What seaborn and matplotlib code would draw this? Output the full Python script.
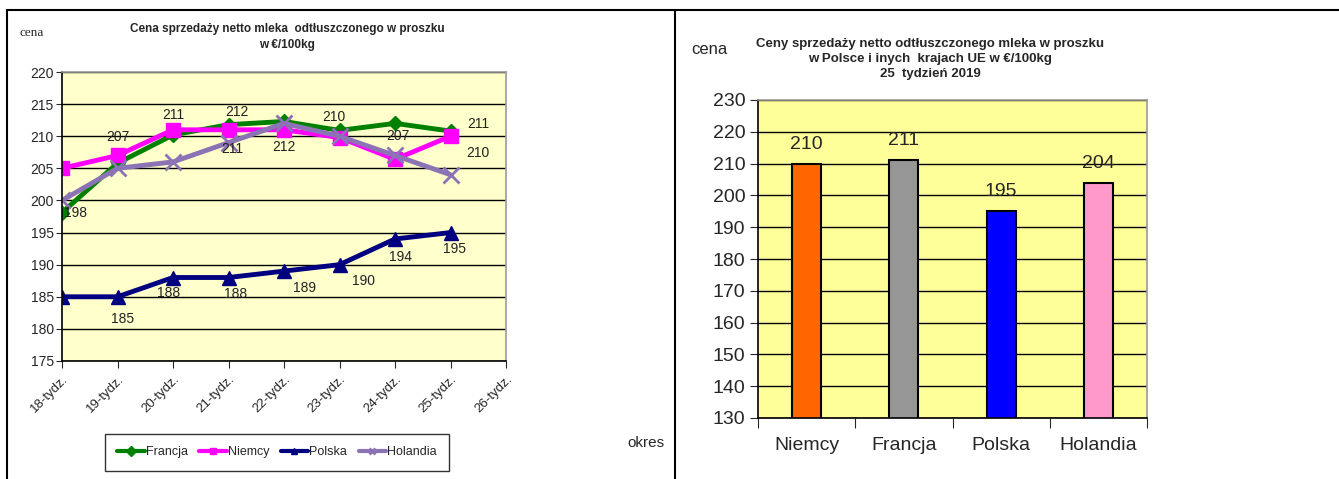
#  Ceny mleka odtłuszczonego w proszku - wykres liniowy + słupkowy

import numpy as np
import pandas as pd
import matplotlib
matplotlib.use('Agg')
import matplotlib.pyplot as plt
import seaborn as sns
from matplotlib.lines import Line2D
# _________________________________________________

# DANE

weeks = ['18-tydz.', '19-tydz.', '20-tydz.', '21-tydz.', '22-tydz.',
         '23-tydz.', '24-tydz.', '25-tydz.', '26-tydz.']

francja = [198.1, 205.8, 210.2, 211.8, 212.3, 210.9, 212.0, 210.8]
niemcy = [205, 207, 211, 211, 211, 209.8, 206.4, 210]
polska = [185, 185, 188, 188, 189, 190, 194, 195]
holandia = [200, 205, 206, 209, 212, 210, 207, 204]

# etykiety danych widoczne na wykresie (None = brak)
francja_lbl = ['198', None, None, '212', None, '210', None, '211']
niemcy_lbl = [None, '207', '211', '211', None, None, None, '210']
polska_lbl = [None, '185', '188', '188', '189', '190', '194', '195']
holandia_lbl = [None, None, None, None, '212', None, '207', None]

countries = ['Niemcy', 'Francja', 'Polska', 'Holandia']
week25 = [210, 211, 195, 204]
# _________________________________________________

sns.set_style('white')
plt.rcParams['font.family'] = ['Liberation Sans', 'DejaVu Sans']

fig = plt.figure(figsize=(13.39, 4.79), dpi=100)
W, H = 1339, 479


def fx(px):
    return px / W


def fy(py):
    return 1 - py / H


# ramki paneli
fig.add_artist(Line2D([fx(7), 1], [fy(10), fy(10)], color='black', lw=1.5))
fig.add_artist(Line2D([fx(7), fx(7)], [fy(10), 0], color='black', lw=1.5))
fig.add_artist(Line2D([fx(675), fx(675)], [fy(10), 0], color='black', lw=1.5))

# _________________________________________________
# LEWY WYKRES

ax1 = fig.add_axes([fx(62), fy(361), fx(506 - 62), (361 - 72) / H])
ax1.set_facecolor('#FFFFCC')

series = [
    ('Francja', francja, francja_lbl, '#008000', 'D', 7, 1),
    ('Niemcy', niemcy, niemcy_lbl, '#FF00FF', 's', 10, 1),
    ('Polska', polska, polska_lbl, '#000080', '^', 10, 1),
    ('Holandia', holandia, holandia_lbl, '#8C73B5', 'x', 11, 2),
]

# przesunięcia etykiet (pt) dla każdej serii
offsets = {
    'Francja': [(10, 0), None, None, (6, 9), None, (-4, 10), None, (20, 5)],
    'Niemcy': [None, (0, 13), (0, 11), (3, -14), None, None, None, (20, -12)],
    'Polska': [None, (4, -16), (-3, -11), (5, -12), (15, -12), (17, -12), (4, -13), (3, -12)],
    'Holandia': [None, None, None, None, (0, -17), None, (2, 14), None],
}

for name, vals, lbls, col, mk, ms, mew in series:
    x = np.arange(len(vals))
    sns.lineplot(x=x, y=vals, ax=ax1, color=col, lw=3.5, marker=mk,
                 markersize=ms, markeredgecolor=col, markeredgewidth=mew,
                 label=name, legend=False)
    for i, (v, t) in enumerate(zip(vals, lbls)):
        if t is None:
            continue
        dx, dy = offsets[name][i]
        ax1.annotate(t, (i, v), xytext=(dx, dy), textcoords='offset points',
                     ha='center', va='center', fontsize=10, color='#222222')

ax1.set_xlim(0, len(weeks) - 1)
ax1.set_ylim(175, 220)
ax1.set_yticks(range(175, 221, 5))
ax1.set_xticks(range(len(weeks)))
ax1.set_xticklabels(weeks, rotation=45, ha='right', rotation_mode='anchor', fontsize=9.5)
ax1.tick_params(axis='y', labelsize=10, length=4, direction='out', left=True, pad=2)
ax1.tick_params(axis='x', length=5, direction='out', bottom=True)
ax1.grid(axis='y', color='black', lw=1)
ax1.set_axisbelow(True)
for s in ['left', 'bottom']:
    ax1.spines[s].set_color('black')
    ax1.spines[s].set_linewidth(1.2)
for s in ['top', 'right']:
    ax1.spines[s].set_color('#999999')
    ax1.spines[s].set_linewidth(1.2)
ax1.set_xlabel('')
ax1.set_ylabel('')

fig.text(fx(287), fy(37), 'Cena sprzedaży netto mleka  odtłuszczonego w proszku\nw €/100kg',
         ha='center', va='center', fontsize=8.5, fontweight='bold', linespacing=1.45)
fig.text(fx(20), fy(33), 'cena', ha='left', va='center', fontsize=9.5,
         family=['Liberation Serif', 'DejaVu Serif'])
fig.text(fx(627), fy(443), 'okres', ha='left', va='center', fontsize=11)

handles, labels = ax1.get_legend_handles_labels()
leg = fig.legend(handles, labels, loc='center', bbox_to_anchor=(fx(277), fy(452)),
                 ncol=4, frameon=True, fancybox=False, fontsize=9,
                 handlelength=2.2, handletextpad=0.1, columnspacing=0.9,
                 borderpad=1.0)
for h in leg.legend_handles:
    h.set_markersize(5)
    h.set_linewidth(3)
leg.get_frame().set_edgecolor('black')
leg.get_frame().set_linewidth(1)

# _________________________________________________
# PRAWY WYKRES

ax2 = fig.add_axes([fx(758), fy(418), fx(1147 - 758), (418 - 100) / H])
ax2.set_facecolor('#FFFF99')

df_bar = pd.DataFrame({'kraj': countries, 'cena': week25})
bar_colors = ['#FF6600', '#969696', '#0000FF', '#FF99CC']
sns.barplot(data=df_bar, x='kraj', y='cena', hue='kraj', palette=bar_colors,
            ax=ax2, width=0.3, edgecolor='black', linewidth=1.5, legend=False,
            saturation=1)

for i, v in enumerate(week25):
    ax2.annotate(str(v), (i, v), xytext=(0, 14), textcoords='offset points',
                 ha='center', va='center', fontsize=14)

ax2.set_ylim(130, 230)
ax2.set_yticks(range(130, 231, 10))
ax2.set_xlim(-0.5, 3.5)
ax2.set_xticks([-0.5, 0.5, 1.5, 2.5, 3.5], minor=False)
ax2.set_xticklabels([])
ax2.set_xticks(range(4), minor=True)
ax2.set_xticklabels(countries, minor=True, fontsize=14)
ax2.tick_params(axis='x', which='major', length=7, bottom=True, direction='out')
ax2.tick_params(axis='x', which='minor', length=0, pad=14)
ax2.tick_params(axis='y', labelsize=14, length=6, left=True, direction='out', pad=3)
ax2.grid(axis='y', color='black', lw=1)
ax2.set_axisbelow(True)
ax2.set_xlabel('')
ax2.set_ylabel('')
for s in ['left', 'bottom']:
    ax2.spines[s].set_color('black')
    ax2.spines[s].set_linewidth(1.2)
for s in ['top', 'right']:
    ax2.spines[s].set_color('#999999')
    ax2.spines[s].set_linewidth(1.2)

fig.text(fx(930), fy(59), 'Ceny sprzedaży netto odtłuszczonego mleka w proszku\n'
         'w Polsce i inych  krajach UE w €/100kg\n25  tydzień 2019',
         ha='center', va='center', fontsize=9.5, fontweight='bold', linespacing=1.35)
fig.text(fx(691), fy(50), 'cena', ha='left', va='center', fontsize=12)

plt.savefig('out.png', dpi=100)
